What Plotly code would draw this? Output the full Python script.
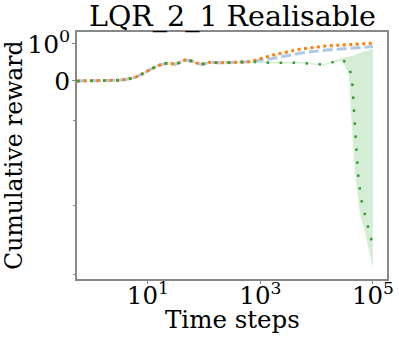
import numpy as np
import plotly.graph_objects as go

# ---------------- data ----------------
x_common = [0.55, 1, 2, 3, 4.2, 6, 8.1, 11, 14.5, 18, 21.8, 26, 30.3, 37, 45.5,
            60, 75, 91, 126, 190, 381, 650]
y_common = [0.0, 0.0, 0.005, 0.02, 0.046, 0.1, 0.2, 0.3, 0.405, 0.45, 0.478, 0.47,
            0.45, 0.5, 0.568, 0.54, 0.48, 0.45, 0.505, 0.49, 0.505, 0.52]

orange_x_tail = [1660, 5000, 15000, 39000, 100000]
orange_y_tail = [0.70, 0.86, 0.95, 0.99, 1.05]

blue_x_tail = [1660, 5000, 15000, 39000, 100000]
blue_y_tail = [0.61, 0.75, 0.84, 0.88, 0.93]

green_x_tail = [1660, 5000, 13000, 17000, 28000, 37000, 42400, 44000, 45800, 47500,
                50000, 54000, 57000, 61000, 69500, 78500, 89000, 100000]
green_y_tail = [0.49, 0.49, 0.44, 0.48, 0.59, 0.43, 0.08, -0.3, -0.8, -2.6,
                -10, -42, -96, -250, -620, -1400, -3700, -7000]
green_up_tail = [0.51, 0.51, 0.46, 0.50, 0.62, 0.65, 0.67, 0.68, 0.69, 0.70,
                 0.72, 0.74, 0.75, 0.77, 0.80, 0.82, 0.84, 0.865]
green_lo_tail = [0.47, 0.47, 0.42, 0.46, 0.55, 0.2, -2.3, -5, -15, -40,
                 -100, -250, -500, -1000, -2000, -5000, -12000, -32000]
green_band_early = [0.01, 0.01, 0.01, 0.015, 0.02, 0.03, 0.04, 0.04, 0.045, 0.045, 0.04,
                    0.035, 0.03, 0.03, 0.03, 0.02, 0.02, 0.02, 0.02, 0.02, 0.02, 0.02]

x_ticks = [10, 1000, 100000]
x_tick_text = ["10<sup>1</sup>", "10<sup>3</sup>", "10<sup>5</sup>"]
y_ticks = [1, 0]
y_tick_text = ["10<sup>0</sup>", "0"]
y_minor_ticks = [-1.15, -437, -51000]

# ---------------- symlog transform (linthresh=1, linscale=1) ----------------
LINTHRESH = 1.0
LINSCALE_ADJ = 1.0 / (1 - 1 / 10.0)


def symlog(v):
    v = np.asarray(v, dtype=float)
    a = np.abs(v)
    out = np.where(a <= LINTHRESH, v * LINSCALE_ADJ,
                   np.sign(v) * LINTHRESH * (LINSCALE_ADJ + np.log10(np.maximum(a, 1e-300) / LINTHRESH)))
    return out


orange_x = x_common + orange_x_tail
orange_y = y_common + orange_y_tail
blue_x = x_common + blue_x_tail
blue_y = y_common + blue_y_tail
green_x = x_common + green_x_tail
green_y = y_common + green_y_tail
green_up = [m + d for m, d in zip(y_common, green_band_early)] + green_up_tail
green_lo = [m - d for m, d in zip(y_common, green_band_early)] + green_lo_tail

FONT = "DejaVu Serif"

fig = go.Figure()
fig.add_trace(go.Scatter(
    x=green_x + green_x[::-1],
    y=list(symlog(green_up)) + list(symlog(green_lo))[::-1],
    fill="toself", fillcolor="rgba(44,160,44,0.2)", line=dict(width=0),
    mode="lines", hoverinfo="skip", showlegend=False))
fig.add_trace(go.Scatter(x=blue_x, y=symlog(blue_y), mode="lines",
                         line=dict(color="#aec7e8", width=3, dash="10px,4px"),
                         showlegend=False))
fig.add_trace(go.Scatter(x=orange_x, y=symlog(orange_y), mode="lines",
                         line=dict(color="#ff7f0e", width=3, dash="3px,3.5px"),
                         showlegend=False))
fig.add_trace(go.Scatter(x=green_x, y=symlog(green_y), mode="lines",
                         line=dict(color="#2ca02c", width=2.5, dash="2.5px,10.5px"),
                         showlegend=False))

fig.update_layout(
    width=399, height=337,
    margin=dict(l=77, r=12, t=32, b=58, autoexpand=False),
    paper_bgcolor="white", plot_bgcolor="white",
    font=dict(family=FONT, size=24, color="black"),
    annotations=[
        dict(text="LQR_2_1 Realisable", x=0.5, xref="paper", y=1.061, yref="paper",
             xanchor="center", yanchor="middle", showarrow=False,
             font=dict(family=FONT, size=28.5, color="black")),
        dict(text="Time steps", x=0.5, xref="paper", y=-0.165, yref="paper",
             xanchor="center", yanchor="middle", showarrow=False,
             font=dict(family=FONT, size=24.5, color="black")),
        dict(text="Cumulative reward", x=-0.206, xref="paper", y=0.5, yref="paper",
             xanchor="center", yanchor="middle", textangle=-90, showarrow=False,
             font=dict(family=FONT, size=23.5, color="black")),
    ],
)
fig.update_xaxes(
    type="log", range=[-0.26, 5.25], automargin=False,
    tickvals=x_ticks, ticktext=x_tick_text,
    ticks="outside", ticklen=3, tickcolor="#888", tickwidth=1,
    ticklabelstandoff=-9,
    showline=True, linecolor="#888", linewidth=1.5, mirror=True,
    showgrid=False, zeroline=False,
    tickfont=dict(size=24.5),
)
fig.update_yaxes(
    range=[-5.946, 1.471], automargin=False,
    tickvals=list(symlog(y_ticks)), ticktext=y_tick_text,
    ticks="outside", ticklen=3, tickcolor="#888", tickwidth=1,
    ticklabelstandoff=-3,
    minor=dict(tickvals=list(symlog(y_minor_ticks)), ticks="outside", ticklen=2, tickcolor="#888"),
    showline=True, linecolor="#888", linewidth=1.5, mirror=True,
    showgrid=False, zeroline=False,
    tickfont=dict(size=25),
)

fig.write_html("out.html", config={"displayModeBar": False},
               post_script="document.body.style.margin='0';document.body.style.overflow='hidden';")
